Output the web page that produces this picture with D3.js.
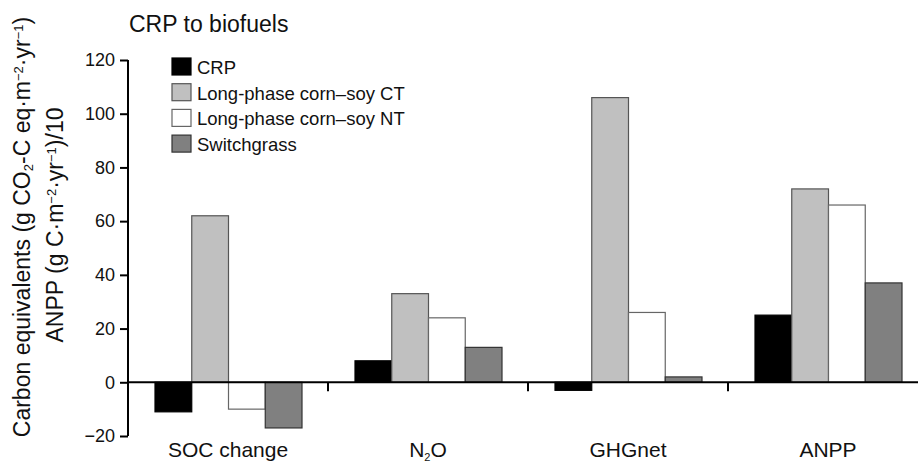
<!DOCTYPE html>
<html>
<head>
<meta charset="utf-8">
<script src="https://cdn.jsdelivr.net/npm/d3@7"></script>
<style>
  body { margin: 0; background: #fff; }
  svg { display: block; font-family: "Liberation Sans", Arial, Helvetica, sans-serif; }
</style>
</head>
<body>
<div id="main"></div>
<script>
// data
var categories = ["SOC change", "N2O", "GHGnet", "ANPP"];
var seriesNames = ["CRP", "Long-phase corn\u2013soy CT", "Long-phase corn\u2013soy NT", "Switchgrass"];
var crp = [-11, 8, -3, 25];
var cornCT = [62, 33, 106, 72];
var cornNT = [-10, 24, 26, 66];
var switchgrass = [-17, 13, 2, 37];
var yTicks = [-20, 0, 20, 40, 60, 80, 100, 120];

var seriesValues = [crp, cornCT, cornNT, switchgrass];
var fills = ["#000000", "#c0c0c0", "#ffffff", "#808080"];
var strokes = ["#000000", "#555555", "#666666", "#333333"];

var width = 918, height = 465;

var svg = d3.select("#main").append("svg")
    .attr("width", width)
    .attr("height", height);

var y = d3.scaleLinear().domain([-20, 120]).range([436, 60]);
var x0 = d3.scaleBand().domain(categories).range([128, 928]);
var x1 = d3.scaleBand().domain(d3.range(seriesNames.length)).range([27, 174]);

// bars
var groups = svg.append("g").selectAll("g")
    .data(categories)
    .enter().append("g")
    .attr("transform", d => "translate(" + x0(d) + ",0)");

groups.selectAll("rect")
    .data((c, ci) => seriesValues.map((s, si) => ({si: si, v: s[ci]})))
    .enter().append("rect")
    .attr("x", d => x1(d.si))
    .attr("width", x1.bandwidth())
    .attr("y", d => y(Math.max(0, d.v)))
    .attr("height", d => Math.abs(y(d.v) - y(0)))
    .attr("fill", d => fills[d.si])
    .attr("stroke", d => strokes[d.si])
    .attr("stroke-width", 1.2);

// y axis
var yAxis = svg.append("g")
    .attr("transform", "translate(128,0)")
    .call(d3.axisLeft(y).tickValues(yTicks).tickSize(8).tickPadding(5)
        .tickFormat(d => d < 0 ? "\u2212" + Math.abs(d) : d));
yAxis.select(".domain").attr("stroke-width", 2).attr("d", "M0," + y(-20) + "V" + y(120));
yAxis.selectAll(".tick line").attr("stroke-width", 2);
yAxis.selectAll("text").attr("font-size", 18).attr("font-family", "Liberation Sans, Arial, sans-serif").attr("fill", "#111");

// zero line with category separators
var zero = svg.append("g");
zero.append("line")
    .attr("x1", 128).attr("x2", width)
    .attr("y1", y(0)).attr("y2", y(0))
    .attr("stroke", "#000").attr("stroke-width", 2);
zero.selectAll(".sep")
    .data(categories.slice(1))
    .enter().append("line")
    .attr("class", "sep")
    .attr("x1", d => x0(d)).attr("x2", d => x0(d))
    .attr("y1", y(0)).attr("y2", y(0) + 9)
    .attr("stroke", "#000").attr("stroke-width", 2);

// category labels
var catLabels = svg.append("g").selectAll("text")
    .data(categories)
    .enter().append("text")
    .attr("x", d => x0(d) + x0.bandwidth() / 2)
    .attr("y", 457)
    .attr("text-anchor", "middle")
    .attr("font-size", 21)
    .attr("fill", "#111");
catLabels.each(function(d) {
  var t = d3.select(this);
  if (d === "N2O") {
    t.append("tspan").text("N");
    t.append("tspan").text("2").attr("font-size", 11).attr("dy", 4);
    t.append("tspan").text("O").attr("dy", -4);
  } else {
    t.text(d);
  }
});

// title
svg.append("text")
    .attr("x", 129).attr("y", 32)
    .attr("font-size", 23)
    .attr("fill", "#111")
    .text("CRP to biofuels");

// legend
var legend = svg.append("g").attr("transform", "translate(172,58)");
var lg = legend.selectAll("g")
    .data(seriesNames)
    .enter().append("g")
    .attr("transform", (d, i) => "translate(0," + i * 25.7 + ")");
lg.append("rect")
    .attr("width", 19).attr("height", 17)
    .attr("fill", (d, i) => fills[i])
    .attr("stroke", (d, i) => strokes[i])
    .attr("stroke-width", 1.2);
lg.append("text")
    .attr("x", 25).attr("y", 16)
    .attr("font-size", 18.5)
    .attr("fill", "#111")
    .text(d => d);

// y axis title, two lines
function addPart(t, s, kind) {
  var sp = t.append("tspan").text(s);
  if (kind === "sub") sp.attr("font-size", 13).attr("baseline-shift", "-25%");
  if (kind === "sup") sp.attr("font-size", 13).attr("baseline-shift", "55%");
}
var l1 = svg.append("text")
    .attr("transform", "translate(30,227) rotate(-90)")
    .attr("text-anchor", "middle")
    .attr("font-size", 23)
    .attr("fill", "#111");
addPart(l1, "Carbon equivalents (g CO");
addPart(l1, "2", "sub");
addPart(l1, "-C eq\u00b7m");
addPart(l1, "\u22122", "sup");
addPart(l1, "\u00b7yr");
addPart(l1, "\u22121", "sup");
addPart(l1, ")");

var l2 = svg.append("text")
    .attr("transform", "translate(63,225) rotate(-90)")
    .attr("text-anchor", "middle")
    .attr("font-size", 23)
    .attr("fill", "#111");
addPart(l2, "ANPP (g C\u00b7m");
addPart(l2, "\u22122", "sup");
addPart(l2, "\u00b7yr");
addPart(l2, "\u22121", "sup");
addPart(l2, ")/10");
</script>
</body>
</html>
